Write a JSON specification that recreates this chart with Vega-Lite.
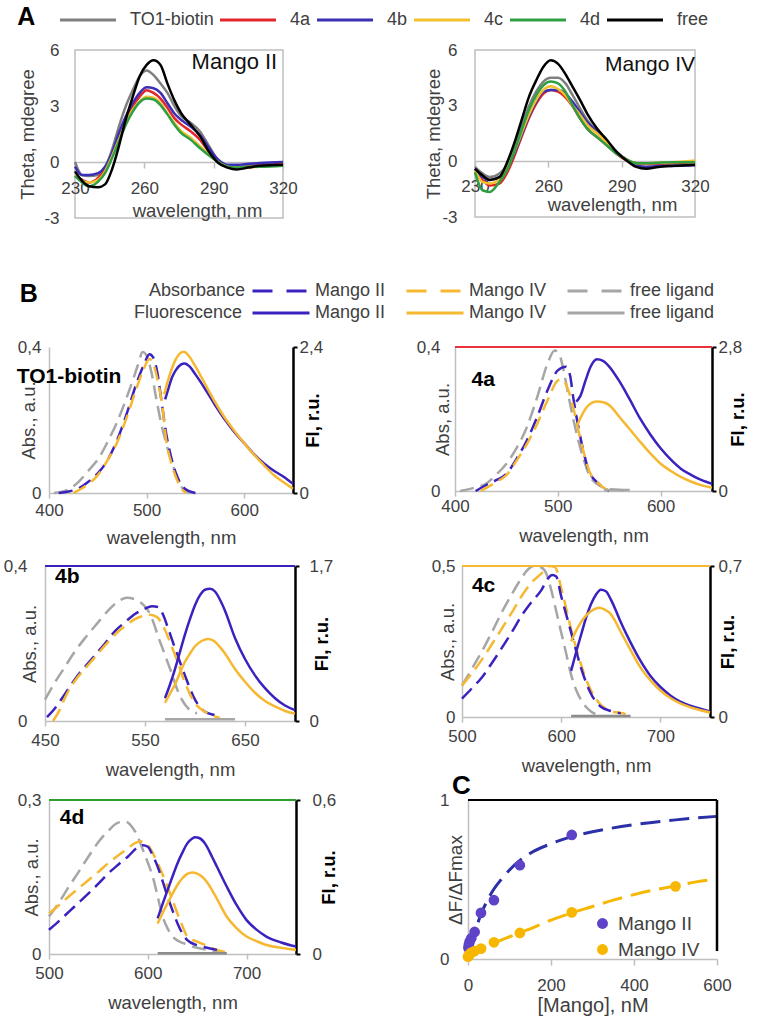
{
"$schema": "https://vega.github.io/schema/vega-lite/v6.json",
"autosize": {"type": "pad"},
"padding": {"left": 3, "top": 3, "right": 5, "bottom": 5},
"background": "white",
"config": {
  "font": "Liberation Sans",
  "view": {"stroke": null},
  "axis": {"grid": false, "labelFontSize": 17, "labelColor": "#404040", "titleFontSize": 18.5, "titleFontWeight": "normal", "titleColor": "#404040", "domainColor": "#bfbfbf", "tickColor": "#bfbfbf", "domainWidth": 1.5, "tickWidth": 1.5},
  "legend": {"labelFontSize": 18, "labelColor": "#404040", "titleFontSize": 18, "titleFontWeight": "normal", "titleColor": "#404040"},
  "title": {"color": "black", "fontWeight": "bold"}
},
"datasets": {
  "cd": [
    {"p":"II","wl":230,"TO1-biotin":0,"4a":-0.75,"4b":-0.25,"4c":-0.7,"4d":-0.75,"free":-0.5},
    {"p":"II","wl":233,"TO1-biotin":-0.7,"4a":-0.95,"4b":-0.7,"4c":-1.0,"4d":-1.1,"free":-1.0},
    {"p":"II","wl":236,"TO1-biotin":-0.75,"4a":-1.1,"4b":-0.7,"4c":-1.1,"4d":-1.3,"free":-1.3},
    {"p":"II","wl":240,"TO1-biotin":-0.7,"4a":-0.85,"4b":-0.6,"4c":-0.95,"4d":-1.05,"free":-1.35},
    {"p":"II","wl":243,"TO1-biotin":-0.3,"4a":-0.4,"4b":-0.25,"4c":-0.5,"4d":-0.6,"free":-1.2},
    {"p":"II","wl":246,"TO1-biotin":0.65,"4a":0.4,"4b":0.5,"4c":0.3,"4d":0.2,"free":-0.4},
    {"p":"II","wl":249,"TO1-biotin":1.9,"4a":1.35,"4b":1.55,"4c":1.2,"4d":1.1,"free":0.85},
    {"p":"II","wl":252,"TO1-biotin":3.0,"4a":2.25,"4b":2.45,"4c":2.1,"4d":2.0,"free":2.3},
    {"p":"II","wl":255,"TO1-biotin":3.85,"4a":3.0,"4b":3.15,"4c":2.8,"4d":2.7,"free":3.5},
    {"p":"II","wl":258,"TO1-biotin":4.6,"4a":3.5,"4b":3.7,"4c":3.25,"4d":3.2,"free":4.6},
    {"p":"II","wl":261,"TO1-biotin":4.9,"4a":3.85,"4b":4.0,"4c":3.5,"4d":3.4,"free":5.2},
    {"p":"II","wl":264,"TO1-biotin":4.65,"4a":3.7,"4b":3.95,"4c":3.45,"4d":3.35,"free":5.45},
    {"p":"II","wl":267,"TO1-biotin":4.2,"4a":3.4,"4b":3.7,"4c":3.15,"4d":3.05,"free":5.2},
    {"p":"II","wl":270,"TO1-biotin":3.7,"4a":2.9,"4b":3.15,"4c":2.6,"4d":2.55,"free":4.2},
    {"p":"II","wl":273,"TO1-biotin":3.0,"4a":2.35,"4b":2.6,"4c":2.1,"4d":2.0,"free":3.3},
    {"p":"II","wl":276,"TO1-biotin":2.45,"4a":2.0,"4b":2.25,"4c":1.65,"4d":1.55,"free":2.6},
    {"p":"II","wl":280,"TO1-biotin":2.1,"4a":1.65,"4b":1.9,"4c":1.3,"4d":1.2,"free":2.0},
    {"p":"II","wl":284,"TO1-biotin":1.65,"4a":1.2,"4b":1.45,"4c":0.85,"4d":0.75,"free":1.4},
    {"p":"II","wl":288,"TO1-biotin":0.85,"4a":0.55,"4b":0.75,"4c":0.4,"4d":0.35,"free":0.55},
    {"p":"II","wl":292,"TO1-biotin":0.05,"4a":0.05,"4b":0.12,"4c":0,"4d":0,"free":-0.05},
    {"p":"II","wl":296,"TO1-biotin":-0.25,"4a":-0.25,"4b":-0.15,"4c":-0.25,"4d":-0.25,"free":-0.3},
    {"p":"II","wl":300,"TO1-biotin":-0.3,"4a":-0.3,"4b":-0.15,"4c":-0.3,"4d":-0.3,"free":-0.4},
    {"p":"II","wl":305,"TO1-biotin":-0.2,"4a":-0.25,"4b":-0.1,"4c":-0.28,"4d":-0.25,"free":-0.3},
    {"p":"II","wl":310,"TO1-biotin":-0.15,"4a":-0.2,"4b":-0.05,"4c":-0.25,"4d":-0.25,"free":-0.2},
    {"p":"II","wl":320,"TO1-biotin":-0.05,"4a":-0.1,"4b":0,"4c":-0.15,"4d":-0.2,"free":-0.15},
    {"p":"IV","wl":230,"TO1-biotin":-0.3,"4a":-0.5,"4b":-0.4,"4c":-0.5,"4d":-0.6,"free":-0.4},
    {"p":"IV","wl":233,"TO1-biotin":-0.65,"4a":-1.0,"4b":-0.85,"4c":-1.1,"4d":-1.55,"free":-0.75},
    {"p":"IV","wl":236,"TO1-biotin":-0.85,"4a":-1.3,"4b":-1.0,"4c":-1.2,"4d":-1.65,"free":-1.0},
    {"p":"IV","wl":240,"TO1-biotin":-0.65,"4a":-1.2,"4b":-0.85,"4c":-0.95,"4d":-1.1,"free":-0.85},
    {"p":"IV","wl":243,"TO1-biotin":-0.2,"4a":-0.65,"4b":-0.4,"4c":-0.4,"4d":-0.5,"free":-0.1},
    {"p":"IV","wl":246,"TO1-biotin":0.75,"4a":0.25,"4b":0.4,"4c":0.5,"4d":0.5,"free":0.95},
    {"p":"IV","wl":249,"TO1-biotin":1.85,"4a":1.3,"4b":1.4,"4c":1.5,"4d":1.65,"free":2.2},
    {"p":"IV","wl":252,"TO1-biotin":2.95,"4a":2.3,"4b":2.4,"4c":2.5,"4d":2.75,"free":3.45},
    {"p":"IV","wl":255,"TO1-biotin":3.75,"4a":3.1,"4b":3.2,"4c":3.3,"4d":3.55,"free":4.35},
    {"p":"IV","wl":258,"TO1-biotin":4.3,"4a":3.65,"4b":3.75,"4c":3.85,"4d":4.1,"free":5.1},
    {"p":"IV","wl":261,"TO1-biotin":4.5,"4a":3.85,"4b":3.85,"4c":4.05,"4d":4.3,"free":5.45},
    {"p":"IV","wl":264,"TO1-biotin":4.5,"4a":3.75,"4b":3.85,"4c":3.9,"4d":4.2,"free":5.25},
    {"p":"IV","wl":267,"TO1-biotin":4.2,"4a":3.45,"4b":3.65,"4c":3.55,"4d":3.75,"free":4.7},
    {"p":"IV","wl":270,"TO1-biotin":3.55,"4a":2.95,"4b":3.2,"4c":3.0,"4d":3.0,"free":4.0},
    {"p":"IV","wl":273,"TO1-biotin":2.85,"4a":2.3,"4b":2.65,"4c":2.5,"4d":2.3,"free":3.3},
    {"p":"IV","wl":276,"TO1-biotin":2.2,"4a":1.75,"4b":2.1,"4c":1.95,"4d":1.75,"free":2.55},
    {"p":"IV","wl":280,"TO1-biotin":1.6,"4a":1.3,"4b":1.6,"4c":1.5,"4d":1.3,"free":1.75},
    {"p":"IV","wl":284,"TO1-biotin":1.05,"4a":0.85,"4b":1.05,"4c":1.0,"4d":0.85,"free":1.15},
    {"p":"IV","wl":288,"TO1-biotin":0.5,"4a":0.4,"4b":0.5,"4c":0.45,"4d":0.4,"free":0.5},
    {"p":"IV","wl":292,"TO1-biotin":0.1,"4a":0.05,"4b":0.1,"4c":0.1,"4d":0.1,"free":0.05},
    {"p":"IV","wl":296,"TO1-biotin":-0.1,"4a":-0.1,"4b":-0.2,"4c":-0.1,"4d":-0.1,"free":-0.3},
    {"p":"IV","wl":300,"TO1-biotin":-0.15,"4a":-0.15,"4b":-0.3,"4c":-0.1,"4d":-0.1,"free":-0.4},
    {"p":"IV","wl":305,"TO1-biotin":-0.12,"4a":-0.12,"4b":-0.25,"4c":-0.07,"4d":-0.07,"free":-0.3},
    {"p":"IV","wl":310,"TO1-biotin":-0.1,"4a":-0.1,"4b":-0.25,"4c":-0.05,"4d":-0.05,"free":-0.25},
    {"p":"IV","wl":320,"TO1-biotin":-0.05,"4a":-0.05,"4b":-0.2,"4c":0.05,"4d":-0.05,"free":-0.2}
  ],
  "spec": [
    {"p":"TO1","k":"abs","s":"free ligand","wl":405,"v":0},{"p":"TO1","k":"abs","s":"free ligand","wl":420,"v":0.01},{"p":"TO1","k":"abs","s":"free ligand","wl":430,"v":0.03},{"p":"TO1","k":"abs","s":"free ligand","wl":440,"v":0.06},{"p":"TO1","k":"abs","s":"free ligand","wl":452,"v":0.1},{"p":"TO1","k":"abs","s":"free ligand","wl":460,"v":0.14},{"p":"TO1","k":"abs","s":"free ligand","wl":469,"v":0.19},{"p":"TO1","k":"abs","s":"free ligand","wl":478,"v":0.25},{"p":"TO1","k":"abs","s":"free ligand","wl":486,"v":0.31},{"p":"TO1","k":"abs","s":"free ligand","wl":491,"v":0.35},{"p":"TO1","k":"abs","s":"free ligand","wl":496,"v":0.386},{"p":"TO1","k":"abs","s":"free ligand","wl":501,"v":0.37},{"p":"TO1","k":"abs","s":"free ligand","wl":505,"v":0.33},{"p":"TO1","k":"abs","s":"free ligand","wl":510,"v":0.257},{"p":"TO1","k":"abs","s":"free ligand","wl":515,"v":0.19},{"p":"TO1","k":"abs","s":"free ligand","wl":520,"v":0.137},{"p":"TO1","k":"abs","s":"free ligand","wl":525,"v":0.09},{"p":"TO1","k":"abs","s":"free ligand","wl":530,"v":0.054},{"p":"TO1","k":"abs","s":"free ligand","wl":537,"v":0.012},{"p":"TO1","k":"abs","s":"free ligand","wl":545,"v":0},
    {"p":"TO1","k":"abs","s":"Mango II","wl":410,"v":0},{"p":"TO1","k":"abs","s":"Mango II","wl":420,"v":0.004},{"p":"TO1","k":"abs","s":"Mango II","wl":430,"v":0.012},{"p":"TO1","k":"abs","s":"Mango II","wl":440,"v":0.03},{"p":"TO1","k":"abs","s":"Mango II","wl":450,"v":0.054},{"p":"TO1","k":"abs","s":"Mango II","wl":460,"v":0.09},{"p":"TO1","k":"abs","s":"Mango II","wl":470,"v":0.146},{"p":"TO1","k":"abs","s":"Mango II","wl":480,"v":0.22},{"p":"TO1","k":"abs","s":"Mango II","wl":490,"v":0.303},{"p":"TO1","k":"abs","s":"Mango II","wl":497,"v":0.35},{"p":"TO1","k":"abs","s":"Mango II","wl":503,"v":0.38},{"p":"TO1","k":"abs","s":"Mango II","wl":507,"v":0.37},{"p":"TO1","k":"abs","s":"Mango II","wl":511,"v":0.33},{"p":"TO1","k":"abs","s":"Mango II","wl":515,"v":0.257},{"p":"TO1","k":"abs","s":"Mango II","wl":520,"v":0.164},{"p":"TO1","k":"abs","s":"Mango II","wl":525,"v":0.1},{"p":"TO1","k":"abs","s":"Mango II","wl":530,"v":0.054},{"p":"TO1","k":"abs","s":"Mango II","wl":535,"v":0.025},{"p":"TO1","k":"abs","s":"Mango II","wl":540,"v":0.01},{"p":"TO1","k":"abs","s":"Mango II","wl":550,"v":0},
    {"p":"TO1","k":"abs","s":"Mango IV","wl":425,"v":0},{"p":"TO1","k":"abs","s":"Mango IV","wl":435,"v":0.015},{"p":"TO1","k":"abs","s":"Mango IV","wl":450,"v":0.049},{"p":"TO1","k":"abs","s":"Mango IV","wl":460,"v":0.09},{"p":"TO1","k":"abs","s":"Mango IV","wl":470,"v":0.14},{"p":"TO1","k":"abs","s":"Mango IV","wl":480,"v":0.21},{"p":"TO1","k":"abs","s":"Mango IV","wl":490,"v":0.29},{"p":"TO1","k":"abs","s":"Mango IV","wl":497,"v":0.34},{"p":"TO1","k":"abs","s":"Mango IV","wl":503,"v":0.367},{"p":"TO1","k":"abs","s":"Mango IV","wl":508,"v":0.345},{"p":"TO1","k":"abs","s":"Mango IV","wl":512,"v":0.3},{"p":"TO1","k":"abs","s":"Mango IV","wl":516,"v":0.24},{"p":"TO1","k":"abs","s":"Mango IV","wl":520,"v":0.146},{"p":"TO1","k":"abs","s":"Mango IV","wl":525,"v":0.085},{"p":"TO1","k":"abs","s":"Mango IV","wl":530,"v":0.044},{"p":"TO1","k":"abs","s":"Mango IV","wl":535,"v":0.015},{"p":"TO1","k":"abs","s":"Mango IV","wl":540,"v":0},
    {"p":"TO1","k":"fl","s":"Mango II","wl":519,"v":1.54},{"p":"TO1","k":"fl","s":"Mango II","wl":522,"v":1.7},{"p":"TO1","k":"fl","s":"Mango II","wl":526,"v":1.9},{"p":"TO1","k":"fl","s":"Mango II","wl":530,"v":2.02},{"p":"TO1","k":"fl","s":"Mango II","wl":535,"v":2.11},{"p":"TO1","k":"fl","s":"Mango II","wl":539,"v":2.13},{"p":"TO1","k":"fl","s":"Mango II","wl":544,"v":2.08},{"p":"TO1","k":"fl","s":"Mango II","wl":550,"v":1.95},{"p":"TO1","k":"fl","s":"Mango II","wl":560,"v":1.71},{"p":"TO1","k":"fl","s":"Mango II","wl":570,"v":1.45},{"p":"TO1","k":"fl","s":"Mango II","wl":580,"v":1.21},{"p":"TO1","k":"fl","s":"Mango II","wl":590,"v":1.0},{"p":"TO1","k":"fl","s":"Mango II","wl":600,"v":0.82},{"p":"TO1","k":"fl","s":"Mango II","wl":610,"v":0.64},{"p":"TO1","k":"fl","s":"Mango II","wl":620,"v":0.49},{"p":"TO1","k":"fl","s":"Mango II","wl":630,"v":0.37},{"p":"TO1","k":"fl","s":"Mango II","wl":640,"v":0.27},{"p":"TO1","k":"fl","s":"Mango II","wl":650,"v":0.15},
    {"p":"TO1","k":"fl","s":"Mango IV","wl":518,"v":1.62},{"p":"TO1","k":"fl","s":"Mango IV","wl":522,"v":1.85},{"p":"TO1","k":"fl","s":"Mango IV","wl":526,"v":2.05},{"p":"TO1","k":"fl","s":"Mango IV","wl":530,"v":2.2},{"p":"TO1","k":"fl","s":"Mango IV","wl":534,"v":2.29},{"p":"TO1","k":"fl","s":"Mango IV","wl":538,"v":2.32},{"p":"TO1","k":"fl","s":"Mango IV","wl":543,"v":2.26},{"p":"TO1","k":"fl","s":"Mango IV","wl":550,"v":2.08},{"p":"TO1","k":"fl","s":"Mango IV","wl":560,"v":1.79},{"p":"TO1","k":"fl","s":"Mango IV","wl":570,"v":1.5},{"p":"TO1","k":"fl","s":"Mango IV","wl":580,"v":1.24},{"p":"TO1","k":"fl","s":"Mango IV","wl":590,"v":1.02},{"p":"TO1","k":"fl","s":"Mango IV","wl":600,"v":0.82},{"p":"TO1","k":"fl","s":"Mango IV","wl":610,"v":0.63},{"p":"TO1","k":"fl","s":"Mango IV","wl":620,"v":0.46},{"p":"TO1","k":"fl","s":"Mango IV","wl":630,"v":0.3},{"p":"TO1","k":"fl","s":"Mango IV","wl":640,"v":0.18},{"p":"TO1","k":"fl","s":"Mango IV","wl":650,"v":0.07},

    {"p":"4a","k":"abs","s":"free ligand","wl":405,"v":0},{"p":"4a","k":"abs","s":"free ligand","wl":420,"v":0.01},{"p":"4a","k":"abs","s":"free ligand","wl":430,"v":0.02},{"p":"4a","k":"abs","s":"free ligand","wl":440,"v":0.045},{"p":"4a","k":"abs","s":"free ligand","wl":450,"v":0.076},{"p":"4a","k":"abs","s":"free ligand","wl":460,"v":0.12},{"p":"4a","k":"abs","s":"free ligand","wl":470,"v":0.178},{"p":"4a","k":"abs","s":"free ligand","wl":480,"v":0.261},{"p":"4a","k":"abs","s":"free ligand","wl":490,"v":0.354},{"p":"4a","k":"abs","s":"free ligand","wl":497,"v":0.39},{"p":"4a","k":"abs","s":"free ligand","wl":502,"v":0.375},{"p":"4a","k":"abs","s":"free ligand","wl":506,"v":0.33},{"p":"4a","k":"abs","s":"free ligand","wl":510,"v":0.27},{"p":"4a","k":"abs","s":"free ligand","wl":515,"v":0.2},{"p":"4a","k":"abs","s":"free ligand","wl":520,"v":0.14},{"p":"4a","k":"abs","s":"free ligand","wl":525,"v":0.09},{"p":"4a","k":"abs","s":"free ligand","wl":530,"v":0.048},{"p":"4a","k":"abs","s":"free ligand","wl":540,"v":0.016},{"p":"4a","k":"abs","s":"free ligand","wl":550,"v":0.006},{"p":"4a","k":"abs","s":"free ligand","wl":560,"v":0.003},{"p":"4a","k":"abs","s":"free ligand","wl":570,"v":0.002},
    {"p":"4a","k":"abs","s":"Mango II","wl":420,"v":0},{"p":"4a","k":"abs","s":"Mango II","wl":430,"v":0.016},{"p":"4a","k":"abs","s":"Mango II","wl":440,"v":0.03},{"p":"4a","k":"abs","s":"Mango II","wl":450,"v":0.048},{"p":"4a","k":"abs","s":"Mango II","wl":460,"v":0.09},{"p":"4a","k":"abs","s":"Mango II","wl":470,"v":0.141},{"p":"4a","k":"abs","s":"Mango II","wl":480,"v":0.206},{"p":"4a","k":"abs","s":"Mango II","wl":490,"v":0.28},{"p":"4a","k":"abs","s":"Mango II","wl":500,"v":0.335},{"p":"4a","k":"abs","s":"Mango II","wl":508,"v":0.345},{"p":"4a","k":"abs","s":"Mango II","wl":512,"v":0.32},{"p":"4a","k":"abs","s":"Mango II","wl":515,"v":0.26},{"p":"4a","k":"abs","s":"Mango II","wl":520,"v":0.178},{"p":"4a","k":"abs","s":"Mango II","wl":525,"v":0.11},{"p":"4a","k":"abs","s":"Mango II","wl":530,"v":0.057},{"p":"4a","k":"abs","s":"Mango II","wl":540,"v":0.02},{"p":"4a","k":"abs","s":"Mango II","wl":550,"v":0},
    {"p":"4a","k":"abs","s":"Mango IV","wl":425,"v":0},{"p":"4a","k":"abs","s":"Mango IV","wl":440,"v":0.025},{"p":"4a","k":"abs","s":"Mango IV","wl":450,"v":0.044},{"p":"4a","k":"abs","s":"Mango IV","wl":460,"v":0.085},{"p":"4a","k":"abs","s":"Mango IV","wl":470,"v":0.131},{"p":"4a","k":"abs","s":"Mango IV","wl":480,"v":0.187},{"p":"4a","k":"abs","s":"Mango IV","wl":490,"v":0.252},{"p":"4a","k":"abs","s":"Mango IV","wl":500,"v":0.307},{"p":"4a","k":"abs","s":"Mango IV","wl":503,"v":0.31},{"p":"4a","k":"abs","s":"Mango IV","wl":508,"v":0.295},{"p":"4a","k":"abs","s":"Mango IV","wl":512,"v":0.265},{"p":"4a","k":"abs","s":"Mango IV","wl":516,"v":0.22},{"p":"4a","k":"abs","s":"Mango IV","wl":520,"v":0.168},{"p":"4a","k":"abs","s":"Mango IV","wl":525,"v":0.11},{"p":"4a","k":"abs","s":"Mango IV","wl":530,"v":0.06},{"p":"4a","k":"abs","s":"Mango IV","wl":540,"v":0.02},{"p":"4a","k":"abs","s":"Mango IV","wl":550,"v":0},
    {"p":"4a","k":"fl","s":"Mango II","wl":518,"v":1.74},{"p":"4a","k":"fl","s":"Mango II","wl":522,"v":1.85},{"p":"4a","k":"fl","s":"Mango II","wl":527,"v":2.15},{"p":"4a","k":"fl","s":"Mango II","wl":532,"v":2.42},{"p":"4a","k":"fl","s":"Mango II","wl":538,"v":2.56},{"p":"4a","k":"fl","s":"Mango II","wl":544,"v":2.53},{"p":"4a","k":"fl","s":"Mango II","wl":550,"v":2.42},{"p":"4a","k":"fl","s":"Mango II","wl":560,"v":2.13},{"p":"4a","k":"fl","s":"Mango II","wl":570,"v":1.78},{"p":"4a","k":"fl","s":"Mango II","wl":580,"v":1.41},{"p":"4a","k":"fl","s":"Mango II","wl":590,"v":1.1},{"p":"4a","k":"fl","s":"Mango II","wl":600,"v":0.83},{"p":"4a","k":"fl","s":"Mango II","wl":610,"v":0.61},{"p":"4a","k":"fl","s":"Mango II","wl":620,"v":0.43},{"p":"4a","k":"fl","s":"Mango II","wl":630,"v":0.31},{"p":"4a","k":"fl","s":"Mango II","wl":640,"v":0.21},{"p":"4a","k":"fl","s":"Mango II","wl":650,"v":0.14},
    {"p":"4a","k":"fl","s":"Mango IV","wl":519,"v":1.28},{"p":"4a","k":"fl","s":"Mango IV","wl":522,"v":1.42},{"p":"4a","k":"fl","s":"Mango IV","wl":527,"v":1.6},{"p":"4a","k":"fl","s":"Mango IV","wl":532,"v":1.7},{"p":"4a","k":"fl","s":"Mango IV","wl":538,"v":1.74},{"p":"4a","k":"fl","s":"Mango IV","wl":545,"v":1.72},{"p":"4a","k":"fl","s":"Mango IV","wl":550,"v":1.67},{"p":"4a","k":"fl","s":"Mango IV","wl":560,"v":1.44},{"p":"4a","k":"fl","s":"Mango IV","wl":570,"v":1.2},{"p":"4a","k":"fl","s":"Mango IV","wl":580,"v":0.96},{"p":"4a","k":"fl","s":"Mango IV","wl":590,"v":0.73},{"p":"4a","k":"fl","s":"Mango IV","wl":600,"v":0.53},{"p":"4a","k":"fl","s":"Mango IV","wl":610,"v":0.39},{"p":"4a","k":"fl","s":"Mango IV","wl":620,"v":0.27},{"p":"4a","k":"fl","s":"Mango IV","wl":630,"v":0.18},{"p":"4a","k":"fl","s":"Mango IV","wl":640,"v":0.11},{"p":"4a","k":"fl","s":"Mango IV","wl":650,"v":0.065},
    {"p":"4a","k":"fl","s":"free ligand","wl":545,"v":0.02},{"p":"4a","k":"fl","s":"free ligand","wl":570,"v":0.02},

    {"p":"4b","k":"abs","s":"free ligand","wl":450,"v":0.055},{"p":"4b","k":"abs","s":"free ligand","wl":460,"v":0.1},{"p":"4b","k":"abs","s":"free ligand","wl":470,"v":0.14},{"p":"4b","k":"abs","s":"free ligand","wl":480,"v":0.18},{"p":"4b","k":"abs","s":"free ligand","wl":490,"v":0.214},{"p":"4b","k":"abs","s":"free ligand","wl":500,"v":0.245},{"p":"4b","k":"abs","s":"free ligand","wl":515,"v":0.29},{"p":"4b","k":"abs","s":"free ligand","wl":525,"v":0.312},{"p":"4b","k":"abs","s":"free ligand","wl":532,"v":0.318},{"p":"4b","k":"abs","s":"free ligand","wl":545,"v":0.307},{"p":"4b","k":"abs","s":"free ligand","wl":555,"v":0.276},{"p":"4b","k":"abs","s":"free ligand","wl":565,"v":0.205},{"p":"4b","k":"abs","s":"free ligand","wl":575,"v":0.135},{"p":"4b","k":"abs","s":"free ligand","wl":585,"v":0.064},{"p":"4b","k":"abs","s":"free ligand","wl":595,"v":0.028},{"p":"4b","k":"abs","s":"free ligand","wl":602,"v":0.02},
    {"p":"4b","k":"abs","s":"Mango II","wl":452,"v":0.01},{"p":"4b","k":"abs","s":"Mango II","wl":460,"v":0.033},{"p":"4b","k":"abs","s":"Mango II","wl":470,"v":0.07},{"p":"4b","k":"abs","s":"Mango II","wl":480,"v":0.108},{"p":"4b","k":"abs","s":"Mango II","wl":490,"v":0.14},{"p":"4b","k":"abs","s":"Mango II","wl":500,"v":0.17},{"p":"4b","k":"abs","s":"Mango II","wl":510,"v":0.2},{"p":"4b","k":"abs","s":"Mango II","wl":520,"v":0.232},{"p":"4b","k":"abs","s":"Mango II","wl":530,"v":0.255},{"p":"4b","k":"abs","s":"Mango II","wl":540,"v":0.276},{"p":"4b","k":"abs","s":"Mango II","wl":550,"v":0.29},{"p":"4b","k":"abs","s":"Mango II","wl":557,"v":0.296},{"p":"4b","k":"abs","s":"Mango II","wl":563,"v":0.294},{"p":"4b","k":"abs","s":"Mango II","wl":568,"v":0.275},{"p":"4b","k":"abs","s":"Mango II","wl":573,"v":0.24},{"p":"4b","k":"abs","s":"Mango II","wl":580,"v":0.188},{"p":"4b","k":"abs","s":"Mango II","wl":590,"v":0.117},{"p":"4b","k":"abs","s":"Mango II","wl":600,"v":0.055},{"p":"4b","k":"abs","s":"Mango II","wl":610,"v":0.024},{"p":"4b","k":"abs","s":"Mango II","wl":620,"v":0.015},{"p":"4b","k":"abs","s":"Mango II","wl":625,"v":0.01},
    {"p":"4b","k":"abs","s":"Mango IV","wl":458,"v":0},{"p":"4b","k":"abs","s":"Mango IV","wl":465,"v":0.03},{"p":"4b","k":"abs","s":"Mango IV","wl":470,"v":0.06},{"p":"4b","k":"abs","s":"Mango IV","wl":480,"v":0.104},{"p":"4b","k":"abs","s":"Mango IV","wl":490,"v":0.135},{"p":"4b","k":"abs","s":"Mango IV","wl":500,"v":0.165},{"p":"4b","k":"abs","s":"Mango IV","wl":510,"v":0.195},{"p":"4b","k":"abs","s":"Mango IV","wl":520,"v":0.223},{"p":"4b","k":"abs","s":"Mango IV","wl":530,"v":0.245},{"p":"4b","k":"abs","s":"Mango IV","wl":540,"v":0.263},{"p":"4b","k":"abs","s":"Mango IV","wl":550,"v":0.272},{"p":"4b","k":"abs","s":"Mango IV","wl":555,"v":0.274},{"p":"4b","k":"abs","s":"Mango IV","wl":562,"v":0.268},{"p":"4b","k":"abs","s":"Mango IV","wl":570,"v":0.235},{"p":"4b","k":"abs","s":"Mango IV","wl":577,"v":0.19},{"p":"4b","k":"abs","s":"Mango IV","wl":583,"v":0.15},{"p":"4b","k":"abs","s":"Mango IV","wl":590,"v":0.099},{"p":"4b","k":"abs","s":"Mango IV","wl":600,"v":0.046},{"p":"4b","k":"abs","s":"Mango IV","wl":610,"v":0.024},{"p":"4b","k":"abs","s":"Mango IV","wl":620,"v":0.012},{"p":"4b","k":"abs","s":"Mango IV","wl":625,"v":0.008},
    {"p":"4b","k":"fl","s":"Mango II","wl":570,"v":0.25},{"p":"4b","k":"fl","s":"Mango II","wl":575,"v":0.4},{"p":"4b","k":"fl","s":"Mango II","wl":580,"v":0.57},{"p":"4b","k":"fl","s":"Mango II","wl":585,"v":0.76},{"p":"4b","k":"fl","s":"Mango II","wl":590,"v":0.95},{"p":"4b","k":"fl","s":"Mango II","wl":595,"v":1.12},{"p":"4b","k":"fl","s":"Mango II","wl":600,"v":1.27},{"p":"4b","k":"fl","s":"Mango II","wl":605,"v":1.38},{"p":"4b","k":"fl","s":"Mango II","wl":610,"v":1.44},{"p":"4b","k":"fl","s":"Mango II","wl":615,"v":1.45},{"p":"4b","k":"fl","s":"Mango II","wl":620,"v":1.42},{"p":"4b","k":"fl","s":"Mango II","wl":625,"v":1.33},{"p":"4b","k":"fl","s":"Mango II","wl":630,"v":1.21},{"p":"4b","k":"fl","s":"Mango II","wl":640,"v":0.91},{"p":"4b","k":"fl","s":"Mango II","wl":650,"v":0.68},{"p":"4b","k":"fl","s":"Mango II","wl":660,"v":0.5},{"p":"4b","k":"fl","s":"Mango II","wl":670,"v":0.36},{"p":"4b","k":"fl","s":"Mango II","wl":680,"v":0.25},{"p":"4b","k":"fl","s":"Mango II","wl":690,"v":0.17},{"p":"4b","k":"fl","s":"Mango II","wl":700,"v":0.12},
    {"p":"4b","k":"fl","s":"Mango IV","wl":570,"v":0.2},{"p":"4b","k":"fl","s":"Mango IV","wl":575,"v":0.3},{"p":"4b","k":"fl","s":"Mango IV","wl":580,"v":0.4},{"p":"4b","k":"fl","s":"Mango IV","wl":585,"v":0.53},{"p":"4b","k":"fl","s":"Mango IV","wl":590,"v":0.65},{"p":"4b","k":"fl","s":"Mango IV","wl":595,"v":0.74},{"p":"4b","k":"fl","s":"Mango IV","wl":600,"v":0.82},{"p":"4b","k":"fl","s":"Mango IV","wl":607,"v":0.88},{"p":"4b","k":"fl","s":"Mango IV","wl":613,"v":0.9},{"p":"4b","k":"fl","s":"Mango IV","wl":620,"v":0.87},{"p":"4b","k":"fl","s":"Mango IV","wl":625,"v":0.81},{"p":"4b","k":"fl","s":"Mango IV","wl":630,"v":0.74},{"p":"4b","k":"fl","s":"Mango IV","wl":640,"v":0.57},{"p":"4b","k":"fl","s":"Mango IV","wl":650,"v":0.43},{"p":"4b","k":"fl","s":"Mango IV","wl":660,"v":0.31},{"p":"4b","k":"fl","s":"Mango IV","wl":670,"v":0.22},{"p":"4b","k":"fl","s":"Mango IV","wl":680,"v":0.16},{"p":"4b","k":"fl","s":"Mango IV","wl":690,"v":0.11},{"p":"4b","k":"fl","s":"Mango IV","wl":700,"v":0.08},
    {"p":"4b","k":"fl","s":"free ligand","wl":570,"v":0.02},{"p":"4b","k":"fl","s":"free ligand","wl":640,"v":0.02},

    {"p":"4c","k":"abs","s":"free ligand","wl":500,"v":0.104},{"p":"4c","k":"abs","s":"free ligand","wl":510,"v":0.16},{"p":"4c","k":"abs","s":"free ligand","wl":520,"v":0.217},{"p":"4c","k":"abs","s":"free ligand","wl":530,"v":0.28},{"p":"4c","k":"abs","s":"free ligand","wl":540,"v":0.346},{"p":"4c","k":"abs","s":"free ligand","wl":550,"v":0.405},{"p":"4c","k":"abs","s":"free ligand","wl":560,"v":0.46},{"p":"4c","k":"abs","s":"free ligand","wl":567,"v":0.49},{"p":"4c","k":"abs","s":"free ligand","wl":573,"v":0.5},{"p":"4c","k":"abs","s":"free ligand","wl":580,"v":0.495},{"p":"4c","k":"abs","s":"free ligand","wl":585,"v":0.475},{"p":"4c","k":"abs","s":"free ligand","wl":590,"v":0.42},{"p":"4c","k":"abs","s":"free ligand","wl":595,"v":0.35},{"p":"4c","k":"abs","s":"free ligand","wl":600,"v":0.28},{"p":"4c","k":"abs","s":"free ligand","wl":605,"v":0.21},{"p":"4c","k":"abs","s":"free ligand","wl":610,"v":0.14},{"p":"4c","k":"abs","s":"free ligand","wl":615,"v":0.09},{"p":"4c","k":"abs","s":"free ligand","wl":620,"v":0.056},{"p":"4c","k":"abs","s":"free ligand","wl":630,"v":0.018},{"p":"4c","k":"abs","s":"free ligand","wl":640,"v":0.005},
    {"p":"4c","k":"abs","s":"Mango IV","wl":500,"v":0.104},{"p":"4c","k":"abs","s":"Mango IV","wl":510,"v":0.145},{"p":"4c","k":"abs","s":"Mango IV","wl":520,"v":0.19},{"p":"4c","k":"abs","s":"Mango IV","wl":530,"v":0.24},{"p":"4c","k":"abs","s":"Mango IV","wl":540,"v":0.292},{"p":"4c","k":"abs","s":"Mango IV","wl":550,"v":0.345},{"p":"4c","k":"abs","s":"Mango IV","wl":560,"v":0.4},{"p":"4c","k":"abs","s":"Mango IV","wl":570,"v":0.445},{"p":"4c","k":"abs","s":"Mango IV","wl":580,"v":0.475},{"p":"4c","k":"abs","s":"Mango IV","wl":588,"v":0.5},{"p":"4c","k":"abs","s":"Mango IV","wl":594,"v":0.495},{"p":"4c","k":"abs","s":"Mango IV","wl":600,"v":0.427},{"p":"4c","k":"abs","s":"Mango IV","wl":605,"v":0.36},{"p":"4c","k":"abs","s":"Mango IV","wl":610,"v":0.29},{"p":"4c","k":"abs","s":"Mango IV","wl":615,"v":0.23},{"p":"4c","k":"abs","s":"Mango IV","wl":620,"v":0.174},{"p":"4c","k":"abs","s":"Mango IV","wl":625,"v":0.125},{"p":"4c","k":"abs","s":"Mango IV","wl":630,"v":0.088},{"p":"4c","k":"abs","s":"Mango IV","wl":640,"v":0.04},{"p":"4c","k":"abs","s":"Mango IV","wl":650,"v":0.02},{"p":"4c","k":"abs","s":"Mango IV","wl":660,"v":0.013},{"p":"4c","k":"abs","s":"Mango IV","wl":665,"v":0.01},
    {"p":"4c","k":"abs","s":"Mango II","wl":500,"v":0.061},{"p":"4c","k":"abs","s":"Mango II","wl":510,"v":0.095},{"p":"4c","k":"abs","s":"Mango II","wl":520,"v":0.131},{"p":"4c","k":"abs","s":"Mango II","wl":530,"v":0.178},{"p":"4c","k":"abs","s":"Mango II","wl":540,"v":0.228},{"p":"4c","k":"abs","s":"Mango II","wl":550,"v":0.28},{"p":"4c","k":"abs","s":"Mango II","wl":560,"v":0.335},{"p":"4c","k":"abs","s":"Mango II","wl":570,"v":0.38},{"p":"4c","k":"abs","s":"Mango II","wl":580,"v":0.42},{"p":"4c","k":"abs","s":"Mango II","wl":587,"v":0.46},{"p":"4c","k":"abs","s":"Mango II","wl":591,"v":0.47},{"p":"4c","k":"abs","s":"Mango II","wl":595,"v":0.465},{"p":"4c","k":"abs","s":"Mango II","wl":600,"v":0.4},{"p":"4c","k":"abs","s":"Mango II","wl":605,"v":0.34},{"p":"4c","k":"abs","s":"Mango II","wl":610,"v":0.28},{"p":"4c","k":"abs","s":"Mango II","wl":615,"v":0.22},{"p":"4c","k":"abs","s":"Mango II","wl":620,"v":0.163},{"p":"4c","k":"abs","s":"Mango II","wl":625,"v":0.115},{"p":"4c","k":"abs","s":"Mango II","wl":630,"v":0.077},{"p":"4c","k":"abs","s":"Mango II","wl":640,"v":0.034},{"p":"4c","k":"abs","s":"Mango II","wl":650,"v":0.02},{"p":"4c","k":"abs","s":"Mango II","wl":660,"v":0.012},
    {"p":"4c","k":"fl","s":"Mango II","wl":610,"v":0.214},{"p":"4c","k":"fl","s":"Mango II","wl":615,"v":0.3},{"p":"4c","k":"fl","s":"Mango II","wl":620,"v":0.38},{"p":"4c","k":"fl","s":"Mango II","wl":625,"v":0.46},{"p":"4c","k":"fl","s":"Mango II","wl":630,"v":0.523},{"p":"4c","k":"fl","s":"Mango II","wl":635,"v":0.567},{"p":"4c","k":"fl","s":"Mango II","wl":640,"v":0.59},{"p":"4c","k":"fl","s":"Mango II","wl":645,"v":0.583},{"p":"4c","k":"fl","s":"Mango II","wl":650,"v":0.545},{"p":"4c","k":"fl","s":"Mango II","wl":655,"v":0.495},{"p":"4c","k":"fl","s":"Mango II","wl":660,"v":0.44},{"p":"4c","k":"fl","s":"Mango II","wl":670,"v":0.345},{"p":"4c","k":"fl","s":"Mango II","wl":680,"v":0.26},{"p":"4c","k":"fl","s":"Mango II","wl":690,"v":0.19},{"p":"4c","k":"fl","s":"Mango II","wl":700,"v":0.139},{"p":"4c","k":"fl","s":"Mango II","wl":710,"v":0.1},{"p":"4c","k":"fl","s":"Mango II","wl":720,"v":0.071},{"p":"4c","k":"fl","s":"Mango II","wl":735,"v":0.045},{"p":"4c","k":"fl","s":"Mango II","wl":750,"v":0.026},
    {"p":"4c","k":"fl","s":"Mango IV","wl":610,"v":0.35},{"p":"4c","k":"fl","s":"Mango IV","wl":615,"v":0.4},{"p":"4c","k":"fl","s":"Mango IV","wl":620,"v":0.44},{"p":"4c","k":"fl","s":"Mango IV","wl":625,"v":0.47},{"p":"4c","k":"fl","s":"Mango IV","wl":630,"v":0.49},{"p":"4c","k":"fl","s":"Mango IV","wl":635,"v":0.503},{"p":"4c","k":"fl","s":"Mango IV","wl":638,"v":0.507},{"p":"4c","k":"fl","s":"Mango IV","wl":643,"v":0.5},{"p":"4c","k":"fl","s":"Mango IV","wl":650,"v":0.477},{"p":"4c","k":"fl","s":"Mango IV","wl":655,"v":0.44},{"p":"4c","k":"fl","s":"Mango IV","wl":660,"v":0.395},{"p":"4c","k":"fl","s":"Mango IV","wl":670,"v":0.31},{"p":"4c","k":"fl","s":"Mango IV","wl":680,"v":0.229},{"p":"4c","k":"fl","s":"Mango IV","wl":690,"v":0.17},{"p":"4c","k":"fl","s":"Mango IV","wl":700,"v":0.123},{"p":"4c","k":"fl","s":"Mango IV","wl":710,"v":0.088},{"p":"4c","k":"fl","s":"Mango IV","wl":720,"v":0.063},{"p":"4c","k":"fl","s":"Mango IV","wl":735,"v":0.038},{"p":"4c","k":"fl","s":"Mango IV","wl":750,"v":0.021},
    {"p":"4c","k":"fl","s":"free ligand","wl":610,"v":0.005},{"p":"4c","k":"fl","s":"free ligand","wl":670,"v":0.005},

    {"p":"4d","k":"abs","s":"free ligand","wl":500,"v":0.073},{"p":"4d","k":"abs","s":"free ligand","wl":510,"v":0.1},{"p":"4d","k":"abs","s":"free ligand","wl":520,"v":0.131},{"p":"4d","k":"abs","s":"free ligand","wl":530,"v":0.16},{"p":"4d","k":"abs","s":"free ligand","wl":540,"v":0.19},{"p":"4d","k":"abs","s":"free ligand","wl":550,"v":0.218},{"p":"4d","k":"abs","s":"free ligand","wl":560,"v":0.24},{"p":"4d","k":"abs","s":"free ligand","wl":570,"v":0.256},{"p":"4d","k":"abs","s":"free ligand","wl":577,"v":0.258},{"p":"4d","k":"abs","s":"free ligand","wl":585,"v":0.245},{"p":"4d","k":"abs","s":"free ligand","wl":590,"v":0.228},{"p":"4d","k":"abs","s":"free ligand","wl":595,"v":0.203},{"p":"4d","k":"abs","s":"free ligand","wl":600,"v":0.178},{"p":"4d","k":"abs","s":"free ligand","wl":605,"v":0.151},{"p":"4d","k":"abs","s":"free ligand","wl":610,"v":0.112},{"p":"4d","k":"abs","s":"free ligand","wl":615,"v":0.073},{"p":"4d","k":"abs","s":"free ligand","wl":620,"v":0.05},{"p":"4d","k":"abs","s":"free ligand","wl":625,"v":0.034},{"p":"4d","k":"abs","s":"free ligand","wl":640,"v":0.018},{"p":"4d","k":"abs","s":"free ligand","wl":660,"v":0.008},{"p":"4d","k":"abs","s":"free ligand","wl":680,"v":0},
    {"p":"4d","k":"abs","s":"Mango IV","wl":500,"v":0.079},{"p":"4d","k":"abs","s":"Mango IV","wl":510,"v":0.095},{"p":"4d","k":"abs","s":"Mango IV","wl":520,"v":0.112},{"p":"4d","k":"abs","s":"Mango IV","wl":530,"v":0.128},{"p":"4d","k":"abs","s":"Mango IV","wl":540,"v":0.144},{"p":"4d","k":"abs","s":"Mango IV","wl":550,"v":0.16},{"p":"4d","k":"abs","s":"Mango IV","wl":560,"v":0.177},{"p":"4d","k":"abs","s":"Mango IV","wl":570,"v":0.192},{"p":"4d","k":"abs","s":"Mango IV","wl":580,"v":0.206},{"p":"4d","k":"abs","s":"Mango IV","wl":587,"v":0.216},{"p":"4d","k":"abs","s":"Mango IV","wl":593,"v":0.219},{"p":"4d","k":"abs","s":"Mango IV","wl":600,"v":0.212},{"p":"4d","k":"abs","s":"Mango IV","wl":605,"v":0.197},{"p":"4d","k":"abs","s":"Mango IV","wl":610,"v":0.177},{"p":"4d","k":"abs","s":"Mango IV","wl":615,"v":0.155},{"p":"4d","k":"abs","s":"Mango IV","wl":620,"v":0.131},{"p":"4d","k":"abs","s":"Mango IV","wl":625,"v":0.105},{"p":"4d","k":"abs","s":"Mango IV","wl":630,"v":0.079},{"p":"4d","k":"abs","s":"Mango IV","wl":635,"v":0.055},{"p":"4d","k":"abs","s":"Mango IV","wl":640,"v":0.034},{"p":"4d","k":"abs","s":"Mango IV","wl":650,"v":0.024},{"p":"4d","k":"abs","s":"Mango IV","wl":660,"v":0.016},{"p":"4d","k":"abs","s":"Mango IV","wl":670,"v":0.008},{"p":"4d","k":"abs","s":"Mango IV","wl":680,"v":0.003},
    {"p":"4d","k":"abs","s":"Mango II","wl":500,"v":0.047},{"p":"4d","k":"abs","s":"Mango II","wl":510,"v":0.064},{"p":"4d","k":"abs","s":"Mango II","wl":520,"v":0.082},{"p":"4d","k":"abs","s":"Mango II","wl":530,"v":0.1},{"p":"4d","k":"abs","s":"Mango II","wl":540,"v":0.118},{"p":"4d","k":"abs","s":"Mango II","wl":550,"v":0.137},{"p":"4d","k":"abs","s":"Mango II","wl":560,"v":0.157},{"p":"4d","k":"abs","s":"Mango II","wl":570,"v":0.174},{"p":"4d","k":"abs","s":"Mango II","wl":580,"v":0.19},{"p":"4d","k":"abs","s":"Mango II","wl":590,"v":0.208},{"p":"4d","k":"abs","s":"Mango II","wl":595,"v":0.212},{"p":"4d","k":"abs","s":"Mango II","wl":600,"v":0.209},{"p":"4d","k":"abs","s":"Mango II","wl":605,"v":0.192},{"p":"4d","k":"abs","s":"Mango II","wl":610,"v":0.17},{"p":"4d","k":"abs","s":"Mango II","wl":615,"v":0.142},{"p":"4d","k":"abs","s":"Mango II","wl":620,"v":0.112},{"p":"4d","k":"abs","s":"Mango II","wl":625,"v":0.085},{"p":"4d","k":"abs","s":"Mango II","wl":630,"v":0.06},{"p":"4d","k":"abs","s":"Mango II","wl":635,"v":0.04},{"p":"4d","k":"abs","s":"Mango II","wl":640,"v":0.027},{"p":"4d","k":"abs","s":"Mango II","wl":650,"v":0.017},{"p":"4d","k":"abs","s":"Mango II","wl":660,"v":0.012},{"p":"4d","k":"abs","s":"Mango II","wl":670,"v":0.008},
    {"p":"4d","k":"fl","s":"Mango II","wl":610,"v":0.139},{"p":"4d","k":"fl","s":"Mango II","wl":615,"v":0.195},{"p":"4d","k":"fl","s":"Mango II","wl":620,"v":0.249},{"p":"4d","k":"fl","s":"Mango II","wl":625,"v":0.302},{"p":"4d","k":"fl","s":"Mango II","wl":630,"v":0.353},{"p":"4d","k":"fl","s":"Mango II","wl":635,"v":0.395},{"p":"4d","k":"fl","s":"Mango II","wl":640,"v":0.431},{"p":"4d","k":"fl","s":"Mango II","wl":645,"v":0.45},{"p":"4d","k":"fl","s":"Mango II","wl":648,"v":0.455},{"p":"4d","k":"fl","s":"Mango II","wl":652,"v":0.452},{"p":"4d","k":"fl","s":"Mango II","wl":658,"v":0.43},{"p":"4d","k":"fl","s":"Mango II","wl":665,"v":0.379},{"p":"4d","k":"fl","s":"Mango II","wl":670,"v":0.34},{"p":"4d","k":"fl","s":"Mango II","wl":680,"v":0.262},{"p":"4d","k":"fl","s":"Mango II","wl":690,"v":0.19},{"p":"4d","k":"fl","s":"Mango II","wl":700,"v":0.132},{"p":"4d","k":"fl","s":"Mango II","wl":710,"v":0.095},{"p":"4d","k":"fl","s":"Mango II","wl":720,"v":0.068},{"p":"4d","k":"fl","s":"Mango II","wl":735,"v":0.045},{"p":"4d","k":"fl","s":"Mango II","wl":750,"v":0.029},
    {"p":"4d","k":"fl","s":"Mango IV","wl":610,"v":0.119},{"p":"4d","k":"fl","s":"Mango IV","wl":615,"v":0.16},{"p":"4d","k":"fl","s":"Mango IV","wl":620,"v":0.197},{"p":"4d","k":"fl","s":"Mango IV","wl":625,"v":0.235},{"p":"4d","k":"fl","s":"Mango IV","wl":630,"v":0.269},{"p":"4d","k":"fl","s":"Mango IV","wl":635,"v":0.295},{"p":"4d","k":"fl","s":"Mango IV","wl":640,"v":0.312},{"p":"4d","k":"fl","s":"Mango IV","wl":645,"v":0.318},{"p":"4d","k":"fl","s":"Mango IV","wl":650,"v":0.313},{"p":"4d","k":"fl","s":"Mango IV","wl":655,"v":0.301},{"p":"4d","k":"fl","s":"Mango IV","wl":660,"v":0.28},{"p":"4d","k":"fl","s":"Mango IV","wl":665,"v":0.249},{"p":"4d","k":"fl","s":"Mango IV","wl":670,"v":0.215},{"p":"4d","k":"fl","s":"Mango IV","wl":680,"v":0.145},{"p":"4d","k":"fl","s":"Mango IV","wl":690,"v":0.1},{"p":"4d","k":"fl","s":"Mango IV","wl":700,"v":0.068},{"p":"4d","k":"fl","s":"Mango IV","wl":710,"v":0.05},{"p":"4d","k":"fl","s":"Mango IV","wl":720,"v":0.035},{"p":"4d","k":"fl","s":"Mango IV","wl":735,"v":0.024},{"p":"4d","k":"fl","s":"Mango IV","wl":750,"v":0.016},
    {"p":"4d","k":"fl","s":"free ligand","wl":610,"v":0.003},{"p":"4d","k":"fl","s":"free ligand","wl":680,"v":0.003}
  ],
  "bind": [
    {"c":"Mango II","conc":1,"f":0.07},{"c":"Mango II","conc":2,"f":0.09},{"c":"Mango II","conc":4,"f":0.11},{"c":"Mango II","conc":8,"f":0.13},{"c":"Mango II","conc":16,"f":0.17},{"c":"Mango II","conc":31.25,"f":0.29},{"c":"Mango II","conc":62.5,"f":0.37},{"c":"Mango II","conc":125,"f":0.59},{"c":"Mango II","conc":250,"f":0.78},
    {"c":"Mango IV","conc":0,"f":0.015},{"c":"Mango IV","conc":2,"f":0.02},{"c":"Mango IV","conc":4,"f":0.03},{"c":"Mango IV","conc":8,"f":0.04},{"c":"Mango IV","conc":16,"f":0.05},{"c":"Mango IV","conc":31.25,"f":0.065},{"c":"Mango IV","conc":62.5,"f":0.105},{"c":"Mango IV","conc":125,"f":0.164},{"c":"Mango IV","conc":250,"f":0.293},{"c":"Mango IV","conc":500,"f":0.457}
  ],
  "fit": [
    {"c":"Mango II","conc":0,"f":0.06},{"c":"Mango II","conc":10,"f":0.13},{"c":"Mango II","conc":20,"f":0.2},{"c":"Mango II","conc":31,"f":0.28},{"c":"Mango II","conc":45,"f":0.36},{"c":"Mango II","conc":62.5,"f":0.44},{"c":"Mango II","conc":80,"f":0.5},{"c":"Mango II","conc":100,"f":0.56},{"c":"Mango II","conc":125,"f":0.62},{"c":"Mango II","conc":150,"f":0.665},{"c":"Mango II","conc":200,"f":0.725},{"c":"Mango II","conc":250,"f":0.77},{"c":"Mango II","conc":300,"f":0.8},{"c":"Mango II","conc":400,"f":0.845},{"c":"Mango II","conc":500,"f":0.875},{"c":"Mango II","conc":600,"f":0.897},
    {"c":"Mango IV","conc":0,"f":0.02},{"c":"Mango IV","conc":30,"f":0.06},{"c":"Mango IV","conc":62.5,"f":0.1},{"c":"Mango IV","conc":100,"f":0.14},{"c":"Mango IV","conc":125,"f":0.165},{"c":"Mango IV","conc":150,"f":0.19},{"c":"Mango IV","conc":200,"f":0.245},{"c":"Mango IV","conc":250,"f":0.29},{"c":"Mango IV","conc":300,"f":0.33},{"c":"Mango IV","conc":350,"f":0.37},{"c":"Mango IV","conc":400,"f":0.405},{"c":"Mango IV","conc":450,"f":0.435},{"c":"Mango IV","conc":500,"f":0.46},{"c":"Mango IV","conc":550,"f":0.485},{"c":"Mango IV","conc":600,"f":0.503}
  ]
},
"spacing": 0,
"bounds": "flush",
"resolve": {"scale": {"color": "independent"}, "legend": {"color": "independent"}},
"vconcat": [
  {
    "spacing": 0, "bounds": "flush",
    "resolve": {"scale": {"color": "independent"}, "legend": {"color": "independent"}},
    "hconcat": [
      {"width": 35, "height": 1, "data": {"values": [{}]}, "mark": {"type": "point", "opacity": 0}},
      {
        "width": 208, "height": 168,
        "view": {"stroke": "#bfbfbf", "strokeWidth": 1.5},
        "layer": [
          {"data": {"name": "cd"}, "transform": [{"filter": "datum.p == 'II'"}, {"fold": ["TO1-biotin", "4a", "4b", "4c", "4d", "free"], "as": ["sample", "theta"]}],
           "mark": {"type": "line", "strokeWidth": 2.5, "interpolate": "monotone"},
           "encoding": {
             "x": {"field": "wl", "type": "quantitative", "scale": {"domain": [230, 320], "nice": false, "zero": false}, "axis": {"values": [230, 260, 290, 320], "offset": -56, "title": "wavelength, nm", "labelFlush": false, "tickSize": 6, "labelPadding": 12, "titlePadding": 5, "titleX": 122}},
             "y": {"field": "theta", "type": "quantitative", "scale": {"domain": [-3, 6], "nice": false, "zero": false}, "axis": {"values": [-3, 0, 3, 6], "labelExpr": "'' + datum.value", "title": "Theta, mdegree", "ticks": false, "domain": false, "labelPadding": 16, "titleX": -48, "titleBaseline": "middle"}},
             "color": {"field": "sample", "type": "nominal", "sort": null, "scale": {"domain": ["TO1-biotin", "4a", "4b", "4c", "4d", "free"], "range": ["#7f7f7f", "#e3262b", "#3b2fb5", "#f2c02d", "#2ea043", "#000000"]},
               "legend": {"orient": "none", "legendX": 2, "legendY": -41, "direction": "horizontal", "title": null, "symbolType": "M-3,0H3", "symbolSize": 348, "symbolStrokeWidth": 3, "labelFontSize": 18, "labelOffset": 31, "columnPadding": 0}}
           }},
          {"data": {"values": [{}]}, "mark": {"type": "text", "text": "Mango II", "fontSize": 22, "align": "right", "baseline": "middle", "color": "#111111"},
           "encoding": {"x": {"datum": 317.5}, "y": {"datum": 5.36}}},
          {"data": {"values": [{}]}, "mark": {"type": "text", "text": "A", "fontSize": 25, "fontWeight": "bold", "align": "left", "baseline": "middle", "color": "black"},
           "encoding": {"x": {"datum": 205}, "y": {"datum": 7.79}}}
        ]
      },
      {"width": 192, "height": 1, "data": {"values": [{}]}, "mark": {"type": "point", "opacity": 0}},
      {
        "width": 220, "height": 167,
        "view": {"stroke": "#bfbfbf", "strokeWidth": 1.5},
        "layer": [
          {"data": {"name": "cd"}, "transform": [{"filter": "datum.p == 'IV'"}, {"fold": ["TO1-biotin", "4a", "4b", "4c", "4d", "free"], "as": ["sample", "theta"]}],
           "mark": {"type": "line", "strokeWidth": 2.5, "interpolate": "monotone"},
           "encoding": {
             "x": {"field": "wl", "type": "quantitative", "scale": {"domain": [230, 320], "nice": false, "zero": false}, "axis": {"values": [230, 260, 290, 320], "offset": -56, "title": "wavelength, nm", "labelFlush": false, "tickSize": 6, "labelPadding": 11, "titlePadding": 1, "titleX": 137}},
             "y": {"field": "theta", "type": "quantitative", "scale": {"domain": [-3, 6], "nice": false, "zero": false}, "axis": {"values": [-3, 0, 3, 6], "labelExpr": "'' + datum.value", "title": "Theta, mdegree", "ticks": false, "domain": false, "labelPadding": 18, "titleX": -42, "titleBaseline": "middle"}},
             "color": {"field": "sample", "type": "nominal", "sort": null, "scale": {"domain": ["TO1-biotin", "4a", "4b", "4c", "4d", "free"], "range": ["#7f7f7f", "#e3262b", "#3b2fb5", "#f2c02d", "#2ea043", "#000000"]}, "legend": null}
           }},
          {"data": {"values": [{}]}, "mark": {"type": "text", "text": "Mango IV", "fontSize": 21, "align": "right", "baseline": "middle", "color": "#111111"},
           "encoding": {"x": {"datum": 320}, "y": {"datum": 5.2}}}
        ]
      }
    ]
  },
  {"width": 1, "height": 297, "data": {"values": [{}]}, "mark": {"type": "point", "opacity": 0}},
  {
    "spacing": 0, "bounds": "flush",
    "resolve": {"scale": {"color": "independent"}, "legend": {"color": "independent"}},
    "hconcat": [
      {"width": 9, "height": 1, "data": {"values": [{}]}, "mark": {"type": "point", "opacity": 0}},
      {
        "width": 244, "height": 146,
        "data": {"name": "spec"},
        "layer": [
          {"layer": [
            {"transform": [{"filter": "datum.p == 'TO1' && datum.k == 'abs'"}],
             "mark": {"type": "line", "strokeDash": [14, 7], "strokeWidth": 2.5, "interpolate": "monotone"},
             "encoding": {
               "x": {"field": "wl", "type": "quantitative", "scale": {"domain": [400, 650], "nice": false, "zero": false}, "axis": {"values": [400, 500, 600], "title": "wavelength, nm", "labelFlush": false, "tickSize": 5, "labelPadding": 4, "titlePadding": 10}},
               "y": {"field": "v", "type": "quantitative", "scale": {"domain": [0, 0.4], "nice": false}, "axis": {"values": [0, 0.4], "title": "Abs., a.u.", "ticks": false, "labelPadding": 8, "titleX": -21, "titleBaseline": "middle", "labelExpr": "datum.value == 0 ? '0' : replace(format(datum.value, '.1f'), '.', ',')"}},
               "color": {"field": "s", "type": "nominal", "scale": {"domain": ["Mango II", "Mango IV", "free ligand"], "range": ["#3b22bf", "#f6b830", "#a6a6a6"]},
                 "legend": {"orient": "none", "legendX": 221, "legendY": -67, "direction": "horizontal", "title": null, "symbolType": "M-3,0H3", "symbolSize": 361, "symbolStrokeWidth": 3, "symbolDash": [20, 14], "labelOffset": 23, "columnPadding": 14}}
             }},
            {"data": {"values": [{}]}, "mark": {"type": "text", "text": "TO1-biotin", "fontSize": 21, "fontWeight": "bold", "align": "left", "baseline": "middle", "color": "black"},
             "encoding": {"x": {"datum": 367}, "y": {"datum": 0.317}}},
            {"data": {"values": [{}]}, "mark": {"type": "text", "text": "B", "fontSize": 25, "fontWeight": "bold", "align": "left", "baseline": "middle", "color": "black"},
             "encoding": {"x": {"datum": 370}, "y": {"datum": 0.545}}},
            {"data": {"values": [{}]}, "mark": {"type": "text", "text": "Absorbance", "fontSize": 18, "align": "right", "baseline": "middle", "color": "#404040"},
             "encoding": {"x": {"datum": 600.8}, "y": {"datum": 0.553}}},
            {"data": {"values": [{}]}, "mark": {"type": "text", "text": "Fluorescence", "fontSize": 18, "align": "right", "baseline": "middle", "color": "#404040"},
             "encoding": {"x": {"datum": 597.7}, "y": {"datum": 0.493}}}
          ]},
          {"transform": [{"filter": "datum.p == 'TO1' && datum.k == 'fl'"}],
           "mark": {"type": "line", "strokeWidth": 2.5, "interpolate": "monotone"},
           "encoding": {
             "x": {"field": "wl", "type": "quantitative", "scale": {"domain": [400, 650], "nice": false, "zero": false}},
             "y": {"field": "v", "type": "quantitative", "scale": {"domain": [0, 2.4], "nice": false}, "axis": {"orient": "right", "values": [0, 2.4], "title": "Fl, r.u.", "titleFontWeight": "bold", "titleColor": "black", "titleAngle": 270, "titleX": 19, "titleBaseline": "middle", "domainColor": "black", "domainWidth": 2.5, "tickColor": "black", "tickWidth": 2, "tickSize": 4, "labelPadding": 2, "labelExpr": "datum.value == 0 ? '0' : replace(format(datum.value, '.1f'), '.', ',')"}},
             "color": {"field": "s", "type": "nominal", "scale": {"domain": ["Mango II", "Mango IV", "free ligand"], "range": ["#3b22bf", "#f6b830", "#a6a6a6"]},
               "legend": {"orient": "none", "legendX": 221, "legendY": -45, "direction": "horizontal", "title": null, "symbolType": "M-3,0H3", "symbolSize": 361, "symbolStrokeWidth": 3, "labelOffset": 23, "columnPadding": 14}}
           }}
        ],
        "resolve": {"scale": {"y": "independent", "color": "independent"}}
      },
      {"width": 162, "height": 1, "data": {"values": [{}]}, "mark": {"type": "point", "opacity": 0}},
      {
        "width": 257, "height": 144,
        "data": {"name": "spec"},
        "layer": [
          {"layer": [
            {"transform": [{"filter": "datum.p == '4a' && datum.k == 'abs'"}],
             "mark": {"type": "line", "strokeDash": [14, 7], "strokeWidth": 2.5, "interpolate": "monotone"},
             "encoding": {
               "x": {"field": "wl", "type": "quantitative", "scale": {"domain": [400, 650], "nice": false, "zero": false}, "axis": {"values": [400, 500, 600], "title": "wavelength, nm", "labelFlush": false, "tickSize": 5, "labelPadding": 2, "titlePadding": 12}},
               "y": {"field": "v", "type": "quantitative", "scale": {"domain": [0, 0.4], "nice": false}, "axis": {"values": [0, 0.4], "title": "Abs, a.u.", "ticks": false, "labelPadding": 15, "titleX": -12.5, "titleBaseline": "middle", "labelExpr": "datum.value == 0 ? '0' : replace(format(datum.value, '.1f'), '.', ',')"}},
               "color": {"field": "s", "type": "nominal", "scale": {"domain": ["Mango II", "Mango IV", "free ligand"], "range": ["#3b22bf", "#f6b830", "#a6a6a6"]}, "legend": null}
             }},
            {"data": {"values": [{}]}, "mark": {"type": "rule", "color": "#e8333a", "strokeWidth": 2}, "encoding": {"y": {"datum": 0.4}}},
            {"data": {"values": [{}]}, "mark": {"type": "text", "text": "4a", "fontSize": 21, "fontWeight": "bold", "align": "left", "baseline": "middle", "color": "black"},
             "encoding": {"x": {"datum": 416}, "y": {"datum": 0.308}}}
          ]},
          {"transform": [{"filter": "datum.p == '4a' && datum.k == 'fl'"}],
           "mark": {"type": "line", "strokeWidth": 2.5, "interpolate": "monotone"},
           "encoding": {
             "x": {"field": "wl", "type": "quantitative", "scale": {"domain": [400, 650], "nice": false, "zero": false}},
             "y": {"field": "v", "type": "quantitative", "scale": {"domain": [0, 2.8], "nice": false}, "axis": {"orient": "right", "values": [0, 2.8], "title": "Fl, r.u.", "titleFontWeight": "bold", "titleColor": "black", "titleAngle": 270, "titleX": 25, "titleBaseline": "middle", "domainColor": "black", "domainWidth": 2.5, "tickColor": "black", "tickWidth": 2, "tickSize": 4, "labelPadding": 2, "labelExpr": "datum.value == 0 ? '0' : replace(format(datum.value, '.1f'), '.', ',')"}},
             "color": {"field": "s", "type": "nominal", "scale": {"domain": ["Mango II", "Mango IV", "free ligand"], "range": ["#3b22bf", "#f6b830", "#a6a6a6"]}, "legend": null}
           }}
        ],
        "resolve": {"scale": {"y": "independent"}}
      }
    ]
  },
  {"width": 1, "height": 219, "data": {"values": [{}]}, "mark": {"type": "point", "opacity": 0}},
  {
    "spacing": 0, "bounds": "flush",
    "resolve": {"scale": {"color": "independent"}, "legend": {"color": "independent"}},
    "hconcat": [
      {"width": 5, "height": 1, "data": {"values": [{}]}, "mark": {"type": "point", "opacity": 0}},
      {
        "width": 250, "height": 155,
        "data": {"name": "spec"},
        "layer": [
          {"layer": [
            {"transform": [{"filter": "datum.p == '4b' && datum.k == 'abs'"}],
             "mark": {"type": "line", "strokeDash": [14, 7], "strokeWidth": 2.5, "interpolate": "monotone"},
             "encoding": {
               "x": {"field": "wl", "type": "quantitative", "scale": {"domain": [450, 700], "nice": false, "zero": false}, "axis": {"values": [450, 550, 650], "title": "wavelength, nm", "labelFlush": false, "tickSize": 5, "labelPadding": 6, "titlePadding": 12}},
               "y": {"field": "v", "type": "quantitative", "scale": {"domain": [0, 0.4], "nice": false}, "axis": {"values": [0, 0.4], "title": "Abs., a.u.", "ticks": false, "labelPadding": 18, "titleX": -16, "titleBaseline": "middle", "labelExpr": "datum.value == 0 ? '0' : replace(format(datum.value, '.1f'), '.', ',')"}},
               "color": {"field": "s", "type": "nominal", "scale": {"domain": ["Mango II", "Mango IV", "free ligand"], "range": ["#3b22bf", "#f6b830", "#a6a6a6"]}, "legend": null}
             }},
            {"data": {"values": [{}]}, "mark": {"type": "rule", "color": "#3b22bf", "strokeWidth": 2}, "encoding": {"y": {"datum": 0.4}}},
            {"data": {"values": [{}]}, "mark": {"type": "text", "text": "4b", "fontSize": 21, "fontWeight": "bold", "align": "left", "baseline": "middle", "color": "black"},
             "encoding": {"x": {"datum": 460}, "y": {"datum": 0.372}}}
          ]},
          {"transform": [{"filter": "datum.p == '4b' && datum.k == 'fl'"}],
           "mark": {"type": "line", "strokeWidth": 2.5, "interpolate": "monotone"},
           "encoding": {
             "x": {"field": "wl", "type": "quantitative", "scale": {"domain": [450, 700], "nice": false, "zero": false}},
             "y": {"field": "v", "type": "quantitative", "scale": {"domain": [0, 1.7], "nice": false}, "axis": {"orient": "right", "values": [0, 1.7], "title": "Fl, r.u.", "titleFontWeight": "bold", "titleColor": "black", "titleAngle": 270, "titleX": 26, "titleBaseline": "middle", "domainColor": "black", "domainWidth": 2.5, "tickColor": "black", "tickWidth": 2, "tickSize": 4, "labelPadding": 10, "labelExpr": "datum.value == 0 ? '0' : replace(format(datum.value, '.1f'), '.', ',')"}},
             "color": {"field": "s", "type": "nominal", "scale": {"domain": ["Mango II", "Mango IV", "free ligand"], "range": ["#3b22bf", "#f6b830", "#a6a6a6"]}, "legend": null}
           }}
        ],
        "resolve": {"scale": {"y": "independent"}}
      },
      {"width": 167, "height": 1, "data": {"values": [{}]}, "mark": {"type": "point", "opacity": 0}},
      {
        "width": 248, "height": 151,
        "data": {"name": "spec"},
        "layer": [
          {"layer": [
            {"transform": [{"filter": "datum.p == '4c' && datum.k == 'abs'"}],
             "mark": {"type": "line", "strokeDash": [14, 7], "strokeWidth": 2.5, "interpolate": "monotone"},
             "encoding": {
               "x": {"field": "wl", "type": "quantitative", "scale": {"domain": [500, 750], "nice": false, "zero": false}, "axis": {"values": [500, 600, 700], "title": "wavelength, nm", "labelFlush": false, "tickSize": 5, "labelPadding": 6, "titlePadding": 12}},
               "y": {"field": "v", "type": "quantitative", "scale": {"domain": [0, 0.5], "nice": false}, "axis": {"values": [0, 0.5], "title": "Abs., a.u.", "ticks": false, "labelPadding": 7, "titleX": -15, "titleBaseline": "middle", "labelExpr": "datum.value == 0 ? '0' : replace(format(datum.value, '.1f'), '.', ',')"}},
               "color": {"field": "s", "type": "nominal", "scale": {"domain": ["Mango II", "Mango IV", "free ligand"], "range": ["#3b22bf", "#f6b830", "#a6a6a6"]}, "legend": null}
             }},
            {"data": {"values": [{}]}, "mark": {"type": "rule", "color": "#f6b830", "strokeWidth": 2}, "encoding": {"y": {"datum": 0.5}}},
            {"data": {"values": [{}]}, "mark": {"type": "text", "text": "4c", "fontSize": 21, "fontWeight": "bold", "align": "left", "baseline": "middle", "color": "black"},
             "encoding": {"x": {"datum": 510}, "y": {"datum": 0.435}}}
          ]},
          {"transform": [{"filter": "datum.p == '4c' && datum.k == 'fl'"}],
           "mark": {"type": "line", "strokeWidth": 2.5, "interpolate": "monotone"},
           "encoding": {
             "x": {"field": "wl", "type": "quantitative", "scale": {"domain": [500, 750], "nice": false, "zero": false}},
             "y": {"field": "v", "type": "quantitative", "scale": {"domain": [0, 0.7], "nice": false}, "axis": {"orient": "right", "values": [0, 0.7], "title": "Fl, r.u.", "titleFontWeight": "bold", "titleColor": "black", "titleAngle": 270, "titleX": 17, "titleBaseline": "middle", "domainColor": "black", "domainWidth": 2.5, "tickColor": "black", "tickWidth": 2, "tickSize": 4, "labelPadding": 4, "labelExpr": "datum.value == 0 ? '0' : replace(format(datum.value, '.1f'), '.', ',')"}},
             "color": {"field": "s", "type": "nominal", "scale": {"domain": ["Mango II", "Mango IV", "free ligand"], "range": ["#3b22bf", "#f6b830", "#8c8c8c"]}, "legend": null}
           }}
        ],
        "resolve": {"scale": {"y": "independent", "color": "independent"}}
      }
    ]
  },
  {"width": 1, "height": 234, "data": {"values": [{}]}, "mark": {"type": "point", "opacity": 0}},
  {
    "spacing": 0, "bounds": "flush",
    "resolve": {"scale": {"color": "independent"}, "legend": {"color": "independent"}},
    "hconcat": [
      {"width": 9, "height": 1, "data": {"values": [{}]}, "mark": {"type": "point", "opacity": 0}},
      {
        "width": 247, "height": 154,
        "data": {"name": "spec"},
        "layer": [
          {"layer": [
            {"transform": [{"filter": "datum.p == '4d' && datum.k == 'abs'"}],
             "mark": {"type": "line", "strokeDash": [14, 7], "strokeWidth": 2.5, "interpolate": "monotone"},
             "encoding": {
               "x": {"field": "wl", "type": "quantitative", "scale": {"domain": [500, 750], "nice": false, "zero": false}, "axis": {"values": [500, 600, 700], "title": "wavelength, nm", "labelFlush": false, "tickSize": 5, "labelPadding": 6, "titlePadding": 12}},
               "y": {"field": "v", "type": "quantitative", "scale": {"domain": [0, 0.3], "nice": false}, "axis": {"values": [0, 0.3], "title": "Abs., a.u.", "ticks": false, "labelPadding": 8, "titleX": -18, "titleBaseline": "middle", "labelExpr": "datum.value == 0 ? '0' : replace(format(datum.value, '.1f'), '.', ',')"}},
               "color": {"field": "s", "type": "nominal", "scale": {"domain": ["Mango II", "Mango IV", "free ligand"], "range": ["#3b22bf", "#f6b830", "#a6a6a6"]}, "legend": null}
             }},
            {"data": {"values": [{}]}, "mark": {"type": "rule", "color": "#2ca02c", "strokeWidth": 2}, "encoding": {"y": {"datum": 0.3}}},
            {"data": {"values": [{}]}, "mark": {"type": "text", "text": "4d", "fontSize": 21, "fontWeight": "bold", "align": "left", "baseline": "middle", "color": "black"},
             "encoding": {"x": {"datum": 511}, "y": {"datum": 0.265}}}
          ]},
          {"transform": [{"filter": "datum.p == '4d' && datum.k == 'fl'"}],
           "mark": {"type": "line", "strokeWidth": 2.5, "interpolate": "monotone"},
           "encoding": {
             "x": {"field": "wl", "type": "quantitative", "scale": {"domain": [500, 750], "nice": false, "zero": false}},
             "y": {"field": "v", "type": "quantitative", "scale": {"domain": [0, 0.6], "nice": false}, "axis": {"orient": "right", "values": [0, 0.6], "title": "Fl, r.u.", "titleFontWeight": "bold", "titleColor": "black", "titleAngle": 270, "titleX": 32, "titleBaseline": "middle", "domainColor": "black", "domainWidth": 2.5, "tickColor": "black", "tickWidth": 2, "tickSize": 4, "labelPadding": 12, "labelExpr": "datum.value == 0 ? '0' : replace(format(datum.value, '.1f'), '.', ',')"}},
             "color": {"field": "s", "type": "nominal", "scale": {"domain": ["Mango II", "Mango IV", "free ligand"], "range": ["#3b22bf", "#f6b830", "#8c8c8c"]}, "legend": null}
           }}
        ],
        "resolve": {"scale": {"y": "independent", "color": "independent"}}
      },
      {"width": 172, "height": 1, "data": {"values": [{}]}, "mark": {"type": "point", "opacity": 0}},
      {
        "width": 249, "height": 159,
        "title": {"text": "C", "anchor": "start", "frame": "group", "fontSize": 26, "fontWeight": "bold", "color": "black", "dx": -16, "offset": -8},
        "layer": [
          {"data": {"name": "fit"}, "mark": {"type": "line", "strokeDash": [20, 9], "strokeWidth": 3, "interpolate": "monotone"},
           "encoding": {
             "x": {"field": "conc", "type": "quantitative", "scale": {"domain": [0, 600], "nice": false}, "axis": {"values": [0, 200, 400, 600], "title": "[Mango], nM", "titleFontSize": 20, "labelFlush": false, "tickSize": 6, "labelPadding": 12, "titlePadding": 2}},
             "y": {"field": "f", "type": "quantitative", "scale": {"domain": [0, 1], "nice": false}, "axis": {"values": [0, 1], "format": ".0f", "title": "ΔF/ΔFmax", "titleFontSize": 19, "ticks": false, "labelPadding": 19, "titleX": -13, "titleBaseline": "middle"}},
             "color": {"field": "c", "type": "nominal", "scale": {"domain": ["Mango II", "Mango IV"], "range": ["#2b2fa8", "#f5b700"]}, "legend": null}
           }},
          {"data": {"name": "bind"}, "mark": {"type": "circle", "size": 115, "opacity": 1},
           "encoding": {
             "x": {"field": "conc", "type": "quantitative", "scale": {"domain": [0, 600], "nice": false}},
             "y": {"field": "f", "type": "quantitative", "scale": {"domain": [0, 1], "nice": false}},
             "color": {"field": "c", "type": "nominal", "scale": {"domain": ["Mango II", "Mango IV"], "range": ["#5e43c9", "#f7b600"]},
               "legend": {"orient": "none", "legendX": 125, "legendY": 114, "title": null, "symbolType": "circle", "symbolSize": 120, "labelFontSize": 19, "labelOffset": 6, "rowPadding": 6}}
           }},
          {"data": {"values": [{}]}, "mark": {"type": "rule", "color": "black", "strokeWidth": 2}, "encoding": {"y": {"datum": 1}}},
          {"data": {"values": [{}]}, "mark": {"type": "rule", "color": "black", "strokeWidth": 2.5}, "encoding": {"x": {"datum": 600}, "y": {"datum": 0.05}, "y2": {"datum": 1}}}
        ],
        "resolve": {"scale": {"color": "independent"}}
      }
    ]
  }
]
}
